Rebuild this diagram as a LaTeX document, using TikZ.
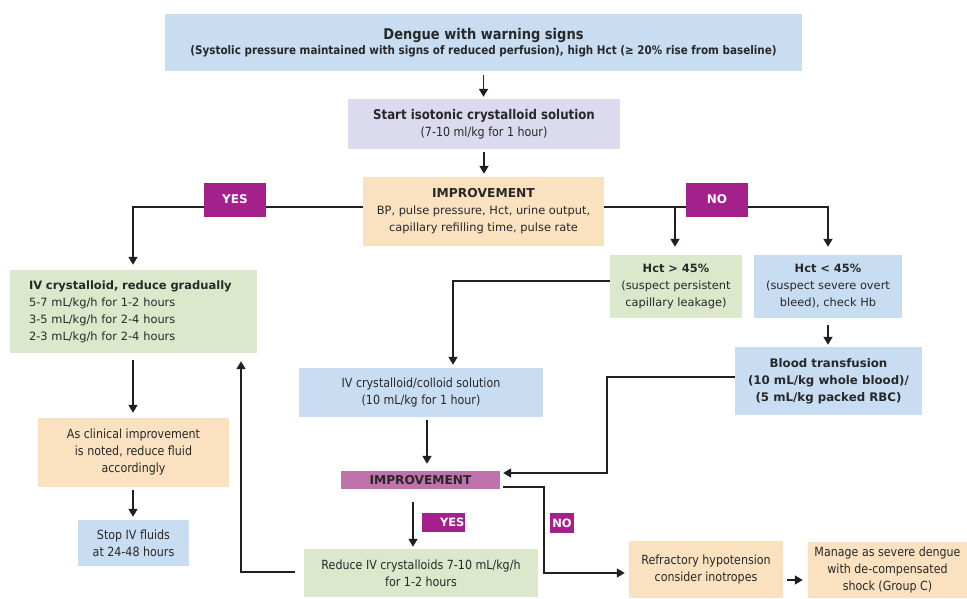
\documentclass[tikz,border=0pt]{standalone}
\usepackage{fontspec}
\setmainfont{DejaVu Sans}
\newfontfamily\tfont[FakeStretch=0.88]{DejaVu Sans}
\usetikzlibrary{arrows.meta}
\definecolor{lblue}{RGB}{200,221,242}
\definecolor{lavend}{RGB}{220,218,238}
\definecolor{peach}{RGB}{250,226,192}
\definecolor{lgreen}{RGB}{220,232,203}
\definecolor{magent}{RGB}{164,32,138}
\definecolor{orchid}{RGB}{192,114,172}
\definecolor{txt}{RGB}{40,40,40}
\definecolor{lc}{RGB}{35,31,32}
\tikzset{
  box/.style={inner sep=0pt, align=center, text=txt},
  vtext/.style={font=\fontsize{11.4}{17}\selectfont},
  ttext/.style={font=\tfont\fontsize{12.6}{17}\selectfont},
  tag/.style={inner sep=0pt, fill=magent, text=white, font=\bfseries\fontsize{12}{14}\selectfont},
  arr/.style={draw=lc, line width=1.7pt, -{Triangle[width=9pt,length=8pt]}}
}
\begin{document}
\begin{tikzpicture}[x=1pt,y=-1pt]
\useasboundingbox (0,0) rectangle (967,598);
% boxes
\node[box, fill=lblue, minimum width=637pt, minimum height=57pt] (top) at (483.5,42.5)
  {{\tfont\bfseries\fontsize{14.8}{18}\selectfont Dengue with warning signs}\\[2pt]
   {\tfont\bfseries\fontsize{11.8}{14}\selectfont (Systolic pressure maintained with signs of reduced perfusion), high Hct (≥ 20\% rise from baseline)}};
\node[box, fill=lavend, minimum width=272pt, minimum height=50pt, ttext] (start) at (484,124)
  {{\bfseries\fontsize{13.4}{17}\selectfont Start isotonic crystalloid solution}\\(7-10 ml/kg for 1 hour)};
\node[box, fill=peach, minimum width=241pt, minimum height=69pt, vtext] (imp1) at (483.5,211.5)
  {{\bfseries\fontsize{12.3}{17}\selectfont IMPROVEMENT}\\BP, pulse pressure, Hct, urine output,\\capillary refilling time, pulse rate};
\node[box, fill=lgreen, minimum height=83pt, text width=209pt, inner xsep=19pt, align=left, vtext] (ivred) at (133.5,311.5)
  {{\bfseries\fontsize{11.5}{17}\selectfont IV crystalloid, reduce gradually}\\5-7 mL/kg/h for 1-2 hours\\3-5 mL/kg/h for 2-4 hours\\2-3 mL/kg/h for 2-4 hours};
\node[box, fill=lgreen, minimum width=132pt, minimum height=63pt, vtext] (hct1) at (676,286.5)
  {\textbf{Hct > 45\%}\\(suspect persistent\\capillary leakage)};
\node[box, fill=lblue, minimum width=148pt, minimum height=63pt, vtext] (hct2) at (828,286.5)
  {\textbf{Hct < 45\%}\\(suspect severe overt\\bleed), check Hb};
\node[box, fill=lblue, minimum width=187pt, minimum height=68pt, font=\bfseries\fontsize{11.8}{17}\selectfont] (blood) at (828.5,381)
  {Blood transfusion\\(10 mL/kg whole blood)/\\(5 mL/kg packed RBC)};
\node[box, fill=lblue, minimum width=244pt, minimum height=49pt, ttext] (ivcol) at (421,392.5)
  {IV crystalloid/colloid solution\\(10 mL/kg for 1 hour)};
\node[box, fill=orchid, minimum width=159pt, minimum height=18pt, font=\bfseries\fontsize{12.2}{14}\selectfont] (imp2) at (420.5,480)
  {IMPROVEMENT};
\node[box, fill=peach, minimum width=191pt, minimum height=69pt, ttext] (asclin) at (133.5,452.5)
  {As clinical improvement\\is noted, reduce fluid\\accordingly};
\node[box, fill=lblue, minimum width=111pt, minimum height=46pt, ttext] (stop) at (133.5,543)
  {Stop IV fluids\\at 24-48 hours};
\node[box, fill=lgreen, minimum width=234pt, minimum height=48pt, ttext] (reduce) at (421,573)
  {Reduce IV crystalloids 7-10 mL/kg/h\\for 1-2 hours};
\node[box, fill=peach, minimum width=154pt, minimum height=57pt, ttext] (refr) at (706,569.5)
  {Refractory hypotension\\consider inotropes};
\node[box, fill=peach, minimum width=159pt, minimum height=56pt, ttext] (manage) at (887.5,570)
  {Manage as severe dengue\\with de-compensated\\shock (Group C)};
% helper coordinates
\coordinate (j1) at ([yshift=4.5pt]imp1.east);
\coordinate (xhct1) at ([xshift=-1pt]hct1.north);
\coordinate (xcol) at ([xshift=6pt]ivcol.south);
\coordinate (xyes) at ([xshift=-8pt]reduce.north);
\coordinate (xleft) at ([xshift=-0.5pt]ivred.south);
% connectors
\draw[arr, shorten <=4pt, shorten >=2pt] (top.south) -- (top.south |- start.north);
\draw[arr, shorten <=3pt, shorten >=3pt] (start.south) -- (start.south |- imp1.north);
\draw[arr] ([yshift=4.5pt]imp1.west) -| ([xshift=-0.5pt,yshift=5pt]ivred.north);
\draw[arr] (j1) -| ([yshift=8pt]hct2.north);
\draw[arr] (j1 -| xhct1) -- ([yshift=8pt]xhct1);
\draw[arr, shorten <=7pt, shorten >=2pt] (hct2.south) -- (hct2.south |- blood.north);
\draw[arr] ([yshift=5.5pt]hct1.west) -| ([xshift=32pt,yshift=3pt]ivcol.north);
\draw[arr] ([yshift=4pt]blood.west) -- ++(-128pt,0) |- ([xshift=3pt,yshift=7pt]imp2.east);
\draw[arr, shorten <=3pt, shorten >=7pt] (xcol) -- (xcol |- imp2.north);
\draw[arr, shorten <=7pt, shorten >=5pt] (xleft) -- (xleft |- asclin.north);
\draw[arr, shorten <=3pt, shorten >=3pt] ([xshift=-0.5pt]asclin.south) -- ([xshift=-0.5pt]asclin.south |- stop.north);
\draw[arr, shorten <=13pt, shorten >=2pt] (xyes |- imp2.south) -- (xyes);
\draw[arr] ([xshift=-9pt,yshift=1pt]reduce.west) -| ([xshift=107.5pt,yshift=-8pt]ivred.south);
\draw[arr] ([xshift=3pt,yshift=-7pt]imp2.east) -- ++(41pt,0) |- ([xshift=-4pt,yshift=-3.5pt]refr.west);
\draw[arr] ([xshift=4pt,yshift=-10.5pt]refr.east) -- ([xshift=-5pt,yshift=-10.5pt]refr.east -| manage.west);
% tags
\node[tag, minimum width=62pt, minimum height=34pt] (yes1) at (235,199.5) {YES};
\node[tag, minimum width=62pt, minimum height=34pt] (no1) at (717,199.5) {NO};
\node[tag, minimum width=43pt, minimum height=19pt, font=\bfseries\fontsize{11.5}{13}\selectfont, align=right, text width=42pt] (yes2) at (443.5,522.5) {YES};
\node[tag, minimum width=24pt, minimum height=20pt, font=\bfseries\fontsize{11.5}{13}\selectfont] (no2) at (562,523) {NO};
\end{tikzpicture}
\end{document}
